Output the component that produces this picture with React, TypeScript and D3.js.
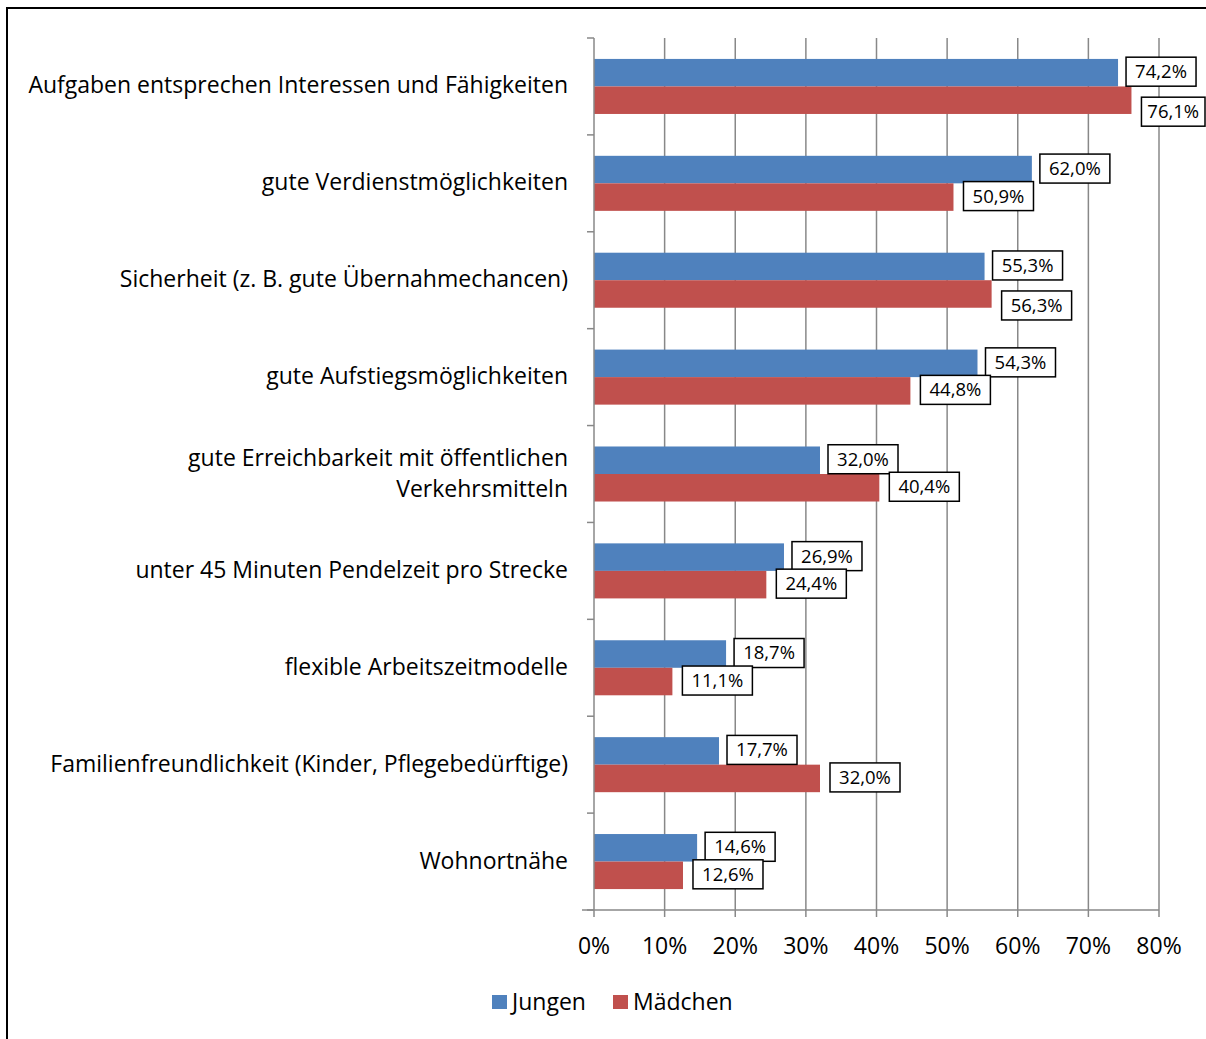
import { useMemo } from 'react'
import * as d3 from 'd3'

const categories = [
  ['Aufgaben entsprechen Interessen und Fähigkeiten'],
  ['gute Verdienstmöglichkeiten'],
  ['Sicherheit (z. B. gute Übernahmechancen)'],
  ['gute Aufstiegsmöglichkeiten'],
  ['gute Erreichbarkeit mit öffentlichen', 'Verkehrsmitteln'],
  ['unter 45 Minuten Pendelzeit pro Strecke'],
  ['flexible Arbeitszeitmodelle'],
  ['Familienfreundlichkeit (Kinder, Pflegebedürftige)'],
  ['Wohnortnähe']
]

const jungen = [74.2, 62.0, 55.3, 54.3, 32.0, 26.9, 18.7, 17.7, 14.6]
const maedchen = [76.1, 50.9, 56.3, 44.8, 40.4, 24.4, 11.1, 32.0, 12.6]

const seriesNames = ['Jungen', 'Mädchen']
const seriesColors = ['#4F81BD', '#C0504D']
const xTicks = [0, 10, 20, 30, 40, 50, 60, 70, 80]

const W = 1206
const H = 1039
const FONT = '"Open Sans", Calibri, sans-serif'

const plot = { left: 594, right: 1159, top: 38, bottom: 910 }
const labelW = 70
const labelH = 29
const chartRight = 1205

const fmt = (v: number) => v.toFixed(1).replace('.', ',') + '%'

export default function App() {
  const x = useMemo(() => d3.scaleLinear().domain([0, 80]).range([plot.left, plot.right]), [])
  const y = useMemo(
    () =>
      d3.scaleBand<number>()
        .domain(d3.range(categories.length))
        .range([plot.top, plot.bottom])
        .paddingInner(0.432)
        .paddingOuter(0.216),
    []
  )
  const ySub = d3.scaleBand<number>().domain([0, 1]).range([0, y.bandwidth()])
  const step = (plot.bottom - plot.top) / categories.length
  const boundaries = d3.range(categories.length + 1).map(i => plot.top + i * step)

  // data labels, red one pushed down when it would sit on top of the blue one
  const labels: { x: number; y: number; w: number; text: string }[] = []
  categories.forEach((_, i) => {
    const vals = [jungen[i], maedchen[i]]
    const boxes = vals.map((v, s) => {
      const bx = x(v) + (s === 0 ? 8 : 10)
      let w = labelW
      if (bx + w > chartRight) w = chartRight - bx
      const cy = (y(i) ?? 0) + (ySub(s) ?? 0) + ySub.bandwidth() / 2 - 1
      return { x: bx, y: cy - labelH / 2, w, text: fmt(v) }
    })
    const [b, r] = boxes
    const overlapX = Math.min(b.x + b.w, r.x + r.w) - Math.max(b.x, r.x)
    if (r.x > b.x && overlapX > 30) {
      r.y = b.y + labelH + 11
    }
    labels.push(b, r)
  })

  return (
    <svg width={W} height={H} style={{ position: 'absolute', left: 0, top: 0, background: '#fff' }}>
      <rect x={7} y={8} width={W + 20} height={H + 20} fill="#fff" stroke="#000" strokeWidth={2} />

      {/* grid */}
      {xTicks.slice(1).map(t => (
        <line key={'g' + t} x1={x(t)} x2={x(t)} y1={plot.top} y2={plot.bottom} stroke="#888" strokeWidth={1.5} />
      ))}

      {/* bars */}
      {categories.map((_, i) =>
        [jungen[i], maedchen[i]].map((v, s) => (
          <rect
            key={`b${i}-${s}`}
            x={x(0)}
            y={(y(i) ?? 0) + (ySub(s) ?? 0)}
            width={x(v) - x(0)}
            height={ySub.bandwidth()}
            fill={seriesColors[s]}
          />
        ))
      )}

      {/* axes */}
      <line x1={plot.left} x2={plot.left} y1={plot.top} y2={plot.bottom} stroke="#888" strokeWidth={1.5} />
      <line x1={plot.left - 12} x2={plot.right} y1={plot.bottom} y2={plot.bottom} stroke="#888" strokeWidth={1.5} />
      {boundaries.map((b, i) => (
        <line key={'yt' + i} x1={plot.left - 7} x2={plot.left} y1={b} y2={b} stroke="#888" strokeWidth={1.5} />
      ))}
      {xTicks.map(t => (
        <line key={'xt' + t} x1={x(t)} x2={x(t)} y1={plot.bottom} y2={plot.bottom + 7} stroke="#888" strokeWidth={1.5} />
      ))}
      {xTicks.map(t => (
        <text key={'xl' + t} x={x(t)} y={946} dy="0.35em" textAnchor="middle" fontFamily={FONT} fontSize={23} fill="#000">
          {t + '%'}
        </text>
      ))}

      {/* category labels */}
      {categories.map((lines, i) => {
        const cy = (y(i) ?? 0) + y.bandwidth() / 2
        const lh = 31
        return lines.map((ln, k) => (
          <text
            key={`c${i}-${k}`}
            x={568}
            y={cy + (k - (lines.length - 1) / 2) * lh - 1}
            dy="0.35em"
            textAnchor="end"
            fontFamily={FONT}
            fontSize={23}
            fill="#000"
          >
            {ln}
          </text>
        ))
      })}

      {/* data labels */}
      {labels.map((l, i) => (
        <g key={'dl' + i}>
          <rect x={l.x} y={l.y} width={l.w} height={labelH} fill="#fff" stroke="#000" strokeWidth={1.5} />
          <text x={l.x + l.w / 2} y={l.y + labelH / 2} dy="0.35em" textAnchor="middle" fontFamily={FONT} fontSize={18.5} fill="#000">
            {l.text}
          </text>
        </g>
      ))}

      {/* legend */}
      {seriesNames.map((n, s) => {
        const lx = s === 0 ? 492 : 613
        return (
          <g key={'lg' + s}>
            <rect x={lx} y={995} width={15} height={14} fill={seriesColors[s]} />
            <text x={lx + 20} y={1002} dy="0.35em" fontFamily={FONT} fontSize={23} fill="#000">
              {n}
            </text>
          </g>
        )
      })}
    </svg>
  )
}
